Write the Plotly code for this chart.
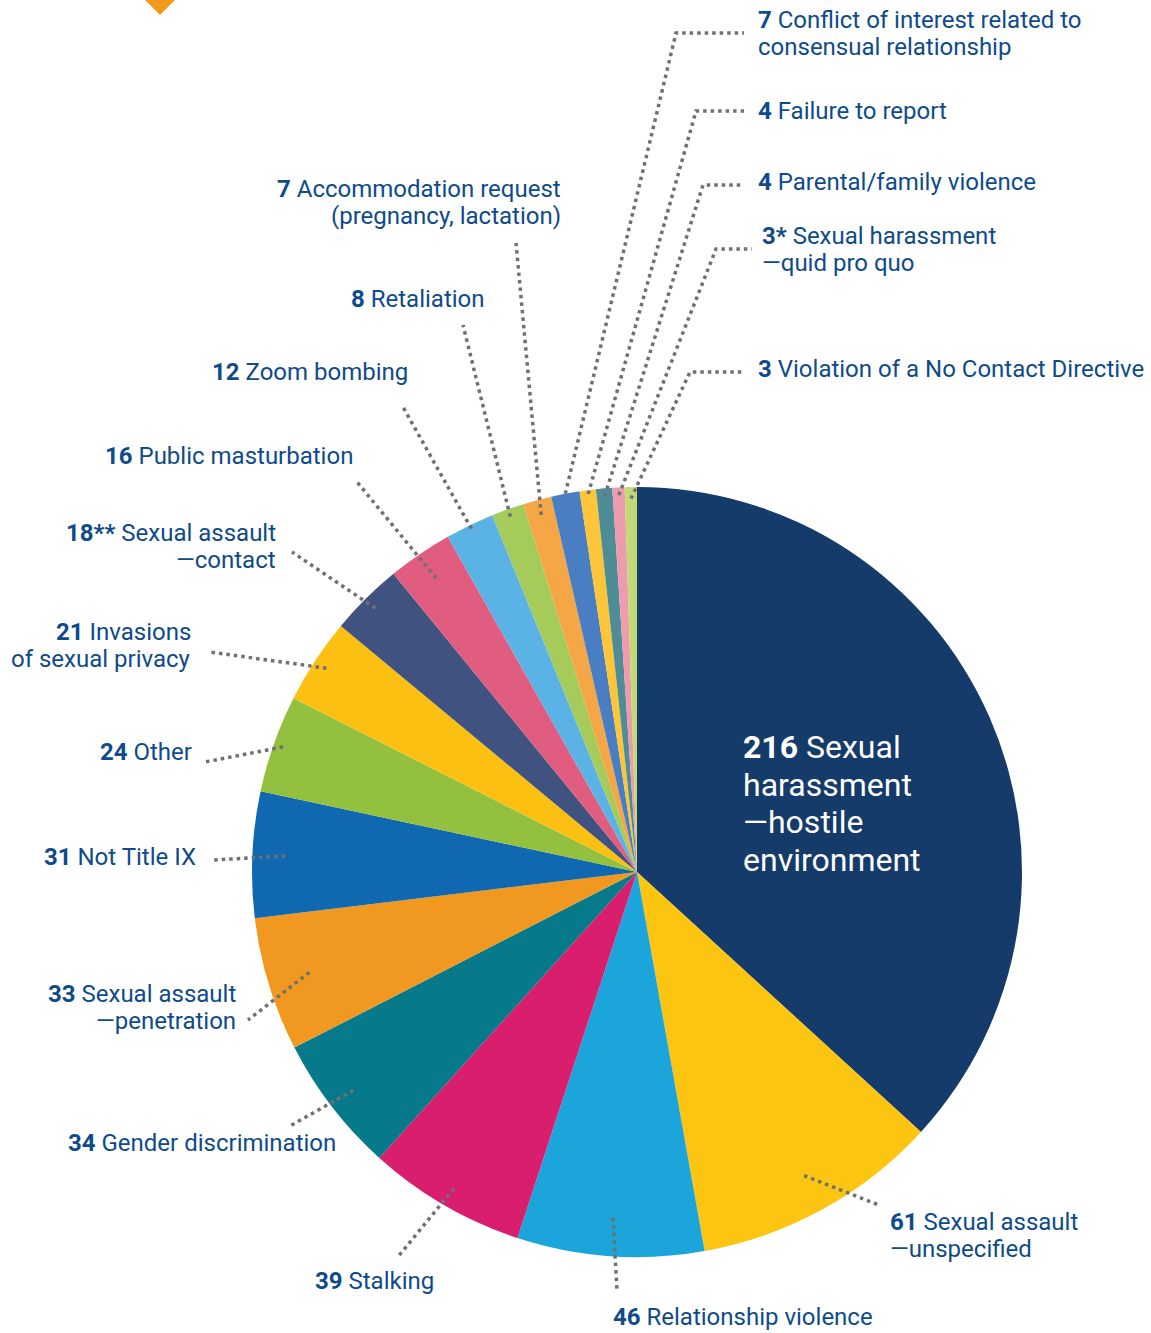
import numpy as np
import plotly.graph_objects as go

# ---------------- data ----------------
categories = [
    "Sexual harassment—hostile environment", "Sexual assault—unspecified",
    "Relationship violence", "Stalking", "Gender discrimination",
    "Sexual assault—penetration", "Not Title IX", "Other",
    "Invasions of sexual privacy", "Sexual assault—contact",
    "Public masturbation", "Zoom bombing", "Retaliation",
    "Accommodation request (pregnancy, lactation)",
    "Conflict of interest related to consensual relationship",
    "Failure to report", "Parental/family violence",
    "Sexual harassment—quid pro quo", "Violation of a No Contact Directive",
]
values = [216, 61, 46, 39, 34, 33, 31, 24, 21, 18, 16, 12, 8, 7, 7, 4, 4, 3, 3]
number_labels = ["216", "61", "46", "39", "34", "33", "31", "24", "21", "18**",
                 "16", "12", "8", "7", "7", "4", "4", "3*", "3"]
label_lines = [
    ["Sexual", "harassment", "—hostile", "environment"],
    ["Sexual assault", "—unspecified"],
    ["Relationship violence"],
    ["Stalking"],
    ["Gender discrimination"],
    ["Sexual assault", "—penetration"],
    ["Not Title IX"],
    ["Other"],
    ["Invasions", "of sexual privacy"],
    ["Sexual assault", "—contact"],
    ["Public masturbation"],
    ["Zoom bombing"],
    ["Retaliation"],
    ["Accommodation request", "(pregnancy, lactation)"],
    ["Conflict of interest related to", "consensual relationship"],
    ["Failure to report"],
    ["Parental/family violence"],
    ["Sexual harassment", "—quid pro quo"],
    ["Violation of a No Contact Directive"],
]
colors = ["#143B6A", "#FCC511", "#1CA5DB", "#D91E6E", "#06798A", "#F0981F",
          "#0F68B0", "#93C03E", "#FCC012", "#40527F", "#E05D80", "#5BB2E4",
          "#A5CB5A", "#F5A746", "#4A7EC2", "#FCC53A", "#4E8C96", "#EE9BAE",
          "#C2D977"]

# ---------------- layout constants (pixels) ----------------
W, H = 1151, 1333
CX, CY, R = 637, 872, 385
TEXT_COLOR = "#0E4B8A"
FONT = "Roboto"
FS = 24
LINE_H = 26.5

# label layout: (x, y of first line, xanchor, inner radius fraction, path points)
label_layout = [
    (741, 747, "left", None, None),
    (888, 1222, "left", 0.90, [(879, 1205)]),
    (611, 1317, "left", 0.90, [(617, 1290)]),
    (436, 1281, "right", 0.95, [(397, 1258)]),
    (338, 1143, "right", 0.93, [(290, 1126)]),
    (238, 994, "right", 0.89, [(248, 1020)]),
    (198, 857, "right", 0.915, [(213, 860)]),
    (194, 752, "right", 0.975, [(205, 762)]),
    (193, 632, "right", 0.965, [(210, 652)]),
    (278, 533, "right", 0.965, [(292, 552)]),
    (355, 456, "right", 0.925, [(357, 482)]),
    (410, 372, "right", 0.99, [(403, 407)]),
    (487, 299, "right", 0.98, [(463, 325)]),
    (563, 189, "right", 0.96, [(516, 243)]),
    (756, 20, "left", 1.0, [(676, 33), (744, 33)]),
    (756, 111, "left", 0.99, [(696, 111), (744, 111)]),
    (756, 182, "left", 0.98, [(703, 185), (744, 185)]),
    (760, 236, "left", 0.98, [(716, 249), (752, 249)]),
    (756, 369, "left", 0.97, [(690, 372), (744, 372)]),
]

fig = go.Figure()

fig.add_trace(go.Pie(
    labels=categories, values=values, sort=False, direction="clockwise",
    rotation=0, marker=dict(colors=colors, line=dict(width=0)),
    textinfo="none", hoverinfo="label+value", showlegend=False,
    domain=dict(x=[(CX - R) / W, (CX + R) / W],
                y=[1 - (CY + R) / H, 1 - (CY - R) / H]),
))

# leader lines, inner ends from the slice mid-angles (drawn as shapes above the pie)
total = float(sum(values))
cum = np.cumsum([0] + values[:-1])
annotations = []
shapes = [dict(type="path", xref="x", yref="y",
               path="M 141 -4 L 160 15 L 179 -4 Z",
               fillcolor="#F39A1E", line=dict(width=0), layer="above")]
for i, (lx, ly, xa, rf, path) in enumerate(label_layout):
    if rf is not None:
        ang = np.deg2rad((cum[i] + values[i] / 2.0) / total * 360.0)
        ix = CX + rf * R * np.sin(ang)
        iy = CY - rf * R * np.cos(ang)
        pts = [(ix, iy)] + list(path)
        d = "M " + " L ".join(f"{px:.1f} {py:.1f}" for px, py in pts)
        shapes.append(dict(type="path", xref="x", yref="y", path=d,
                           line=dict(color="#707070", width=3.5, dash="3.5px,4px"),
                           layer="above"))
    big = i == 0
    fs = 32 if big else FS
    lh = 37.5 if big else LINE_H
    col = "white" if big else TEXT_COLOR
    for k, line in enumerate(label_lines[i]):
        txt = f"<b>{number_labels[i]}</b> {line}" if k == 0 else line
        annotations.append(dict(
            x=lx, y=ly + k * lh, xref="x", yref="y", text=txt,
            showarrow=False, xanchor=xa, yanchor="middle",
            font=dict(family=FONT, size=fs, color=col)))

# invisible anchor trace for the pixel coordinate axes
fig.add_trace(go.Scatter(x=[0, W], y=[0, H], mode="markers",
                         marker=dict(opacity=0), hoverinfo="skip",
                         showlegend=False))

fig.update_layout(
    width=W, height=H, margin=dict(l=0, r=0, t=0, b=0),
    paper_bgcolor="white", plot_bgcolor="rgba(0,0,0,0)",
    xaxis=dict(range=[0, W], visible=False, fixedrange=True),
    yaxis=dict(range=[H, 0], visible=False, fixedrange=True),
    annotations=annotations,
    shapes=shapes,
    showlegend=False,
)

fig.write_html("out.html", config={"displayModeBar": False},
               post_script="document.body.style.margin='0px';")
